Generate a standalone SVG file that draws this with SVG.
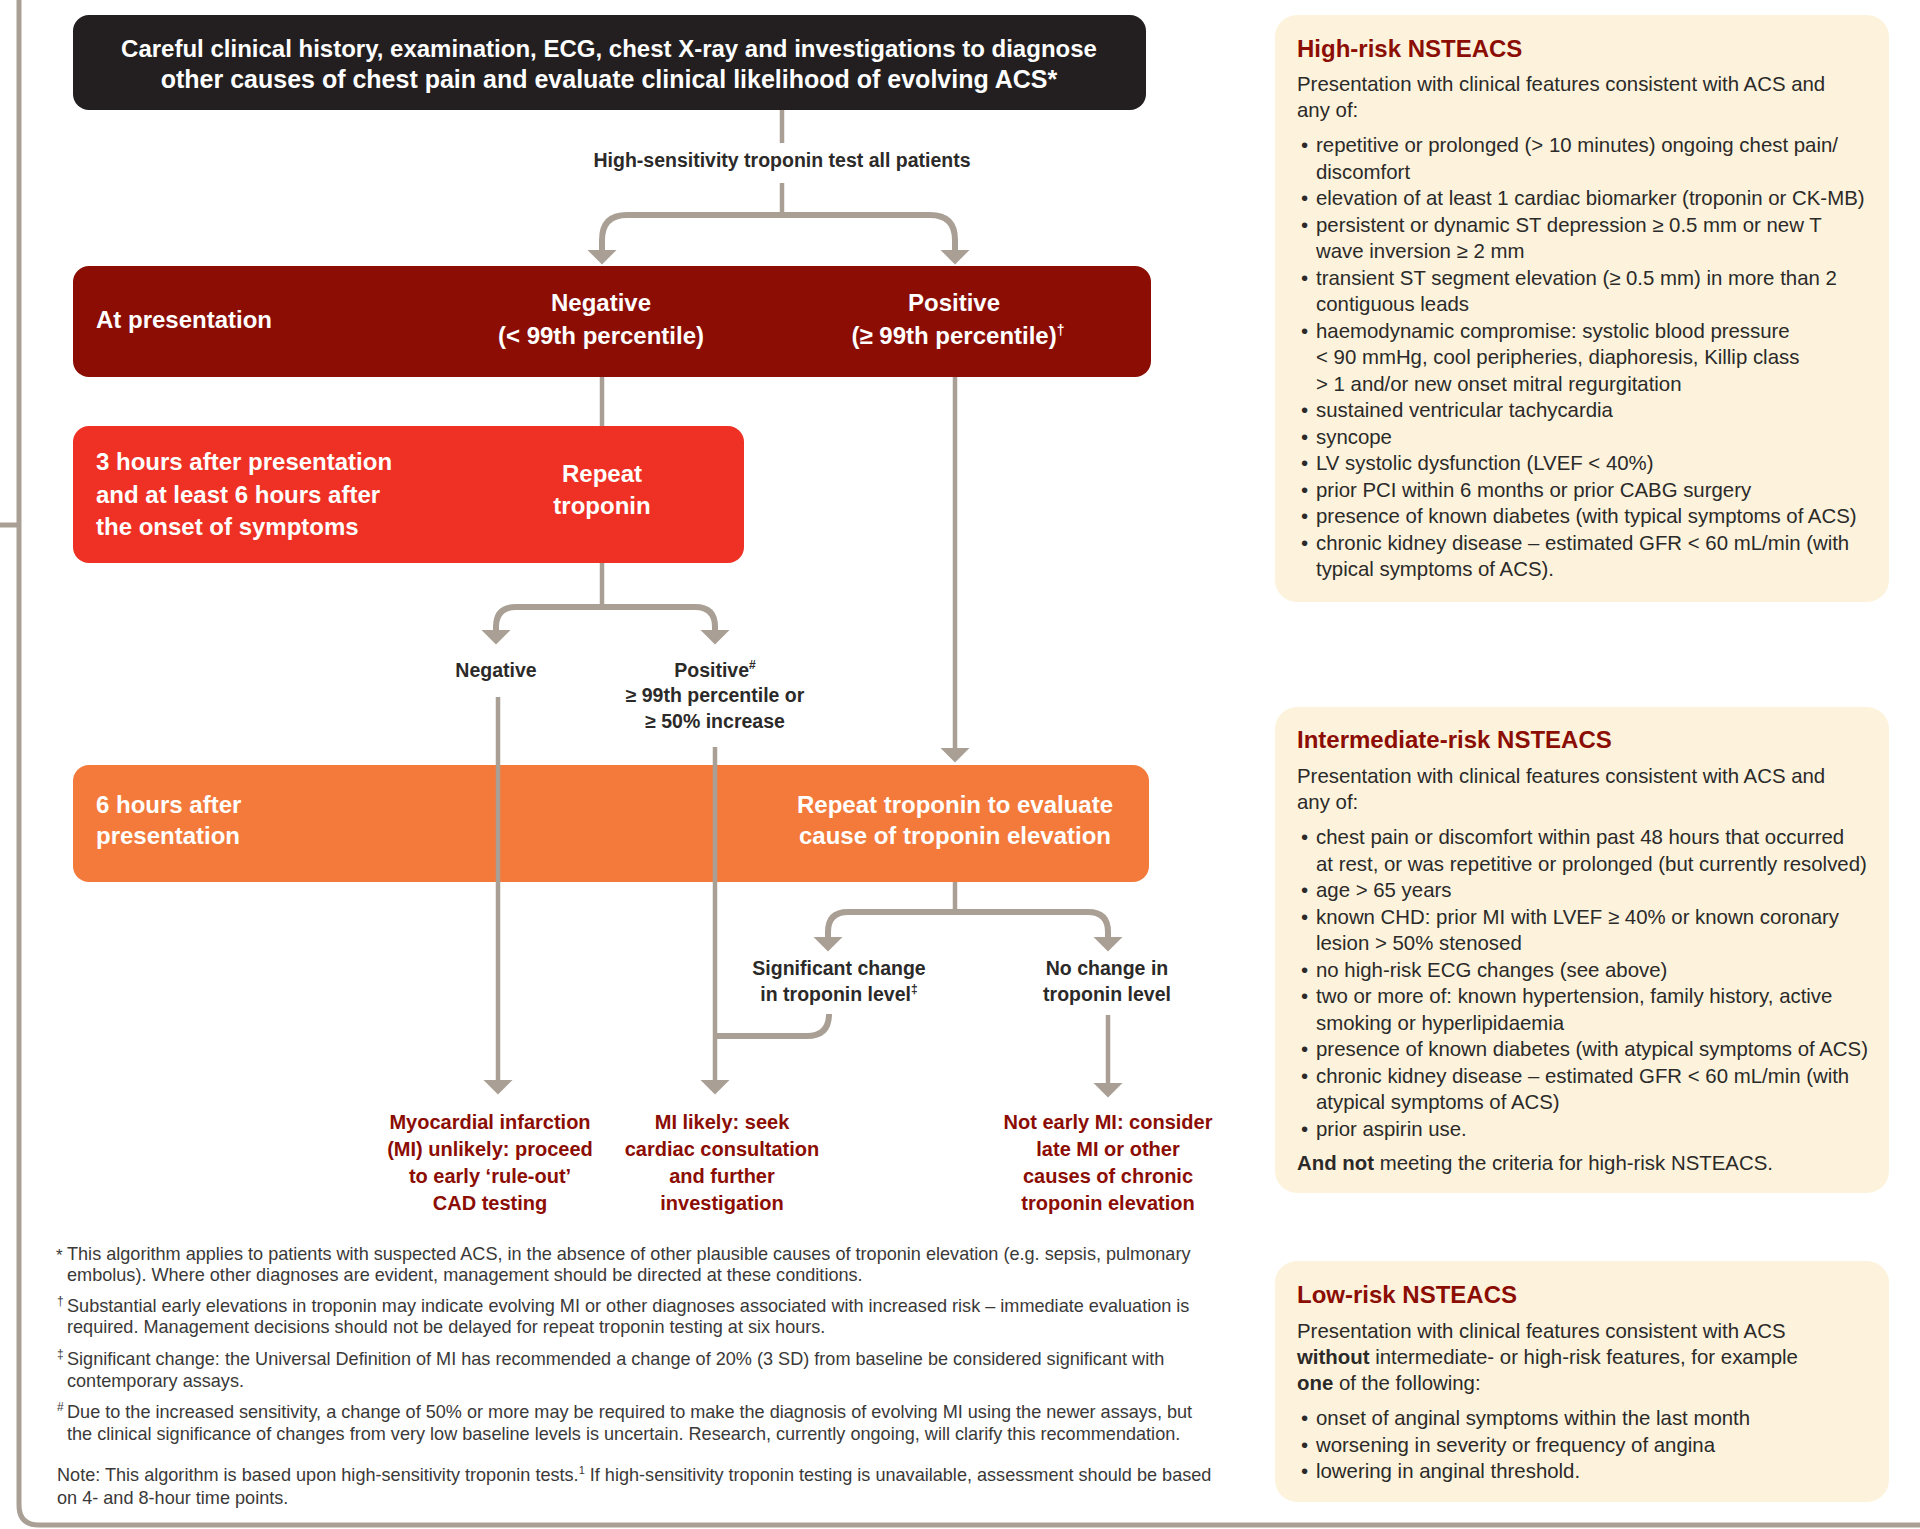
<svg xmlns="http://www.w3.org/2000/svg" width="1920" height="1529" viewBox="0 0 1920 1529">
<style>
text{font-family:"Liberation Sans",Arial,sans-serif}
.frame{fill:none;stroke:#a99f95;stroke-width:5}
.conn{fill:none;stroke:#a99f95;stroke-width:4.5}
.br{stroke-width:6}
.bw{font-size:24px;font-weight:bold;fill:#ffffff}
.mid{text-anchor:middle}
.lbl{font-size:19.5px;font-weight:bold;fill:#2b2a29;text-anchor:middle}
.out{font-size:20px;font-weight:bold;fill:#8b0d04;text-anchor:middle}
.fn{font-size:18.1px;fill:#3a3938}
.fnm{font-size:12px;fill:#3a3938}
.fna{font-size:17px;fill:#3a3938}
.panel{fill:#fdf3dc}
.pt{font-size:24px;font-weight:bold;fill:#8b0d04}
.pb{font-size:20.4px;fill:#2b2a29}
.b{font-weight:bold}
</style>
<defs>
<marker id="ah" viewBox="0 0 15 30" refX="0.5" refY="15" markerWidth="15" markerHeight="30" markerUnits="userSpaceOnUse" orient="auto">
<path d="M0,0 L15,15 L0,30 z" fill="#a99f95"/>
</marker>
</defs>

<g id="frame">
<path class="frame" d="M19 0 V1505 Q19 1525 39 1525 H1920"/>
<path class="frame" d="M0 525 H19"/>
</g>

<g id="connectors">
<path class="conn" d="M782 110 V143"/>
<path class="conn" d="M782 183 V215"/>
<path class="conn br" d="M602 250 V240 Q602 215 627 215 H930 Q955 215 955 240 V250"/>
<path class="conn br" d="M602 240 V250" marker-end="url(#ah)"/>
<path class="conn br" d="M955 240 V250" marker-end="url(#ah)"/>
<path class="conn" d="M602 377 V426"/>
<path class="conn" d="M955 377 V748" marker-end="url(#ah)"/>
<path class="conn" d="M602 563 V607"/>
<path class="conn br" d="M496 630 V627 Q496 607 516 607 H695 Q715 607 715 627 V630"/>
<path class="conn br" d="M496 625 V630" marker-end="url(#ah)"/>
<path class="conn br" d="M715 625 V630" marker-end="url(#ah)"/>
<path class="conn" d="M955 882 V912"/>
<path class="conn br" d="M828 937 V932 Q828 912 848 912 H1088 Q1108 912 1108 932 V937"/>
<path class="conn br" d="M828 932 V937" marker-end="url(#ah)"/>
<path class="conn br" d="M1108 932 V937" marker-end="url(#ah)"/>
<path class="conn br" d="M829 1014 Q829 1036 807 1036 H713"/>
<path class="conn" d="M1108 1015 V1083" marker-end="url(#ah)"/>
</g>

<g id="n-start">
<rect x="73" y="15" width="1073" height="95" rx="16" fill="#231f20"/>
<text class="bw mid" x="609" y="57">Careful clinical history, examination, ECG, chest X-ray and investigations to diagnose</text>
<text class="bw mid" x="609" y="88" style="font-size:25px">other causes of chest pain and evaluate clinical likelihood of evolving ACS*</text>
</g>

<g id="lbl-hs">
<text class="lbl" x="782" y="167">High-sensitivity troponin test all patients</text>
</g>

<g id="n-atpres">
<rect x="73" y="266" width="1078" height="111" rx="16" fill="#8b0d04"/>
<text class="bw" x="96" y="328">At presentation</text>
<text class="bw mid" x="601" y="311">Negative</text>
<text class="bw mid" x="601" y="344">(&lt; 99th percentile)</text>
<text class="bw mid" x="954" y="311">Positive</text>
<text class="bw mid" x="958" y="344">(≥ 99th percentile)<tspan font-size="14" dy="-9">†</tspan></text>
</g>

<g id="n-3h">
<rect x="73" y="426" width="671" height="137" rx="16" fill="#ee3124"/>
<text class="bw" x="96" y="470">3 hours after presentation</text>
<text class="bw" x="96" y="503">and at least 6 hours after</text>
<text class="bw" x="96" y="535">the onset of symptoms</text>
<text class="bw mid" x="602" y="482">Repeat</text>
<text class="bw mid" x="602" y="514">troponin</text>
</g>

<g id="lbl-neg">
<text class="lbl" x="496" y="677">Negative</text>
</g>
<g id="lbl-pos">
<text class="lbl" x="715" y="677">Positive<tspan font-size="12" dy="-8">#</tspan></text>
<text class="lbl" x="715" y="702">≥ 99th percentile or</text>
<text class="lbl" x="715" y="728">≥ 50% increase</text>
</g>

<g id="n-6h">
<rect x="73" y="765" width="1076" height="117" rx="16" fill="#f37a3a"/>
<text class="bw" x="96" y="813">6 hours after</text>
<text class="bw" x="96" y="844">presentation</text>
<text class="bw mid" x="955" y="813">Repeat troponin to evaluate</text>
<text class="bw mid" x="955" y="844">cause of troponin elevation</text>
</g>

<g id="connectors-over">
<path class="conn" d="M498 697 V1080" marker-end="url(#ah)"/>
<path class="conn" d="M715 747 V1080" marker-end="url(#ah)"/>
</g>

<g id="lbl-sig">
<text class="lbl" x="839" y="975">Significant change</text>
<text class="lbl" x="839" y="1001">in troponin level<tspan font-size="12" dy="-8">‡</tspan></text>
</g>
<g id="lbl-nochange">
<text class="lbl" x="1107" y="975">No change in</text>
<text class="lbl" x="1107" y="1001">troponin level</text>
</g>

<g id="out-unlikely">
<text class="out" x="490" y="1129">Myocardial infarction</text>
<text class="out" x="490" y="1156">(MI) unlikely: proceed</text>
<text class="out" x="490" y="1183">to early ‘rule-out’</text>
<text class="out" x="490" y="1210">CAD testing</text>
</g>
<g id="out-likely">
<text class="out" x="722" y="1129">MI likely: seek</text>
<text class="out" x="722" y="1156">cardiac consultation</text>
<text class="out" x="722" y="1183">and further</text>
<text class="out" x="722" y="1210">investigation</text>
</g>
<g id="out-notearly">
<text class="out" x="1108" y="1129">Not early MI: consider</text>
<text class="out" x="1108" y="1156">late MI or other</text>
<text class="out" x="1108" y="1183">causes of chronic</text>
<text class="out" x="1108" y="1210">troponin elevation</text>
</g>

<g id="footnotes">
<text class="fna" x="56" y="1261">*</text>
<text class="fn" x="67" y="1260">This algorithm applies to patients with suspected ACS, in the absence of other plausible causes of troponin elevation (e.g. sepsis, pulmonary</text>
<text class="fn" x="67" y="1281">embolus). Where other diagnoses are evident, management should be directed at these conditions.</text>
<text class="fnm" x="57" y="1305">†</text>
<text class="fn" x="67" y="1312">Substantial early elevations in troponin may indicate evolving MI or other diagnoses associated with increased risk – immediate evaluation is</text>
<text class="fn" x="67" y="1333">required. Management decisions should not be delayed for repeat troponin testing at six hours.</text>
<text class="fnm" x="57" y="1358">‡</text>
<text class="fn" x="67" y="1365">Significant change: the Universal Definition of MI has recommended a change of 20% (3 SD) from baseline be considered significant with</text>
<text class="fn" x="67" y="1387">contemporary assays.</text>
<text class="fnm" x="57" y="1411">#</text>
<text class="fn" x="67" y="1418">Due to the increased sensitivity, a change of 50% or more may be required to make the diagnosis of evolving MI using the newer assays, but</text>
<text class="fn" x="67" y="1440">the clinical significance of changes from very low baseline levels is uncertain. Research, currently ongoing, will clarify this recommendation.</text>
<text class="fn" x="57" y="1481">Note: This algorithm is based upon high-sensitivity troponin tests.<tspan font-size="11" dy="-7">1</tspan><tspan dy="7"> If high-sensitivity troponin testing is unavailable, assessment should be based</tspan></text>
<text class="fn" x="57" y="1504">on 4- and 8-hour time points.</text>
</g>

<g id="panel-high">
<rect class="panel" x="1275" y="15" width="614" height="587" rx="22"/>
<text class="pt" x="1297" y="57">High-risk NSTEACS</text>
<text class="pb" x="1297" y="91">Presentation with clinical features consistent with ACS and</text>
<text class="pb" x="1297" y="117">any of:</text>
<text class="pb" x="1301" y="152">•</text><text class="pb" x="1316" y="152">repetitive or prolonged (&gt; 10 minutes) ongoing chest pain/</text>
<text class="pb" x="1316" y="178.5">discomfort</text>
<text class="pb" x="1301" y="205">•</text><text class="pb" x="1316" y="205">elevation of at least 1 cardiac biomarker (troponin or CK-MB)</text>
<text class="pb" x="1301" y="231.5">•</text><text class="pb" x="1316" y="231.5">persistent or dynamic ST depression ≥ 0.5 mm or new T</text>
<text class="pb" x="1316" y="258">wave inversion ≥ 2 mm</text>
<text class="pb" x="1301" y="284.5">•</text><text class="pb" x="1316" y="284.5">transient ST segment elevation (≥ 0.5 mm) in more than 2</text>
<text class="pb" x="1316" y="311">contiguous leads</text>
<text class="pb" x="1301" y="337.5">•</text><text class="pb" x="1316" y="337.5">haemodynamic compromise: systolic blood pressure</text>
<text class="pb" x="1316" y="364">&lt; 90 mmHg, cool peripheries, diaphoresis, Killip class</text>
<text class="pb" x="1316" y="390.5">&gt; 1 and/or new onset mitral regurgitation</text>
<text class="pb" x="1301" y="417">•</text><text class="pb" x="1316" y="417">sustained ventricular tachycardia</text>
<text class="pb" x="1301" y="443.5">•</text><text class="pb" x="1316" y="443.5">syncope</text>
<text class="pb" x="1301" y="470">•</text><text class="pb" x="1316" y="470">LV systolic dysfunction (LVEF &lt; 40%)</text>
<text class="pb" x="1301" y="496.5">•</text><text class="pb" x="1316" y="496.5">prior PCI within 6 months or prior CABG surgery</text>
<text class="pb" x="1301" y="523">•</text><text class="pb" x="1316" y="523">presence of known diabetes (with typical symptoms of ACS)</text>
<text class="pb" x="1301" y="549.5">•</text><text class="pb" x="1316" y="549.5">chronic kidney disease – estimated GFR &lt; 60 mL/min (with</text>
<text class="pb" x="1316" y="576">typical symptoms of ACS).</text>
</g>

<g id="panel-intermediate">
<rect class="panel" x="1275" y="707" width="614" height="486" rx="22"/>
<text class="pt" x="1297" y="748">Intermediate-risk NSTEACS</text>
<text class="pb" x="1297" y="783">Presentation with clinical features consistent with ACS and</text>
<text class="pb" x="1297" y="809">any of:</text>
<text class="pb" x="1301" y="844">•</text><text class="pb" x="1316" y="844">chest pain or discomfort within past 48 hours that occurred</text>
<text class="pb" x="1316" y="870.5">at rest, or was repetitive or prolonged (but currently resolved)</text>
<text class="pb" x="1301" y="897">•</text><text class="pb" x="1316" y="897">age &gt; 65 years</text>
<text class="pb" x="1301" y="923.5">•</text><text class="pb" x="1316" y="923.5">known CHD: prior MI with LVEF ≥ 40% or known coronary</text>
<text class="pb" x="1316" y="950">lesion &gt; 50% stenosed</text>
<text class="pb" x="1301" y="976.5">•</text><text class="pb" x="1316" y="976.5">no high-risk ECG changes (see above)</text>
<text class="pb" x="1301" y="1003">•</text><text class="pb" x="1316" y="1003">two or more of: known hypertension, family history, active</text>
<text class="pb" x="1316" y="1029.5">smoking or hyperlipidaemia</text>
<text class="pb" x="1301" y="1056">•</text><text class="pb" x="1316" y="1056">presence of known diabetes (with atypical symptoms of ACS)</text>
<text class="pb" x="1301" y="1082.5">•</text><text class="pb" x="1316" y="1082.5">chronic kidney disease – estimated GFR &lt; 60 mL/min (with</text>
<text class="pb" x="1316" y="1109">atypical symptoms of ACS)</text>
<text class="pb" x="1301" y="1135.5">•</text><text class="pb" x="1316" y="1135.5">prior aspirin use.</text>
<text class="pb" x="1297" y="1170"><tspan class="b">And not</tspan> meeting the criteria for high-risk NSTEACS.</text>
</g>

<g id="panel-low">
<rect class="panel" x="1275" y="1261" width="614" height="241" rx="22"/>
<text class="pt" x="1297" y="1303">Low-risk NSTEACS</text>
<text class="pb" x="1297" y="1338">Presentation with clinical features consistent with ACS</text>
<text class="pb" x="1297" y="1364"><tspan class="b">without</tspan> intermediate- or high-risk features, for example</text>
<text class="pb" x="1297" y="1390"><tspan class="b">one</tspan> of the following:</text>
<text class="pb" x="1301" y="1425">•</text><text class="pb" x="1316" y="1425">onset of anginal symptoms within the last month</text>
<text class="pb" x="1301" y="1451.5">•</text><text class="pb" x="1316" y="1451.5">worsening in severity or frequency of angina</text>
<text class="pb" x="1301" y="1478">•</text><text class="pb" x="1316" y="1478">lowering in anginal threshold.</text>
</g>
</svg>
